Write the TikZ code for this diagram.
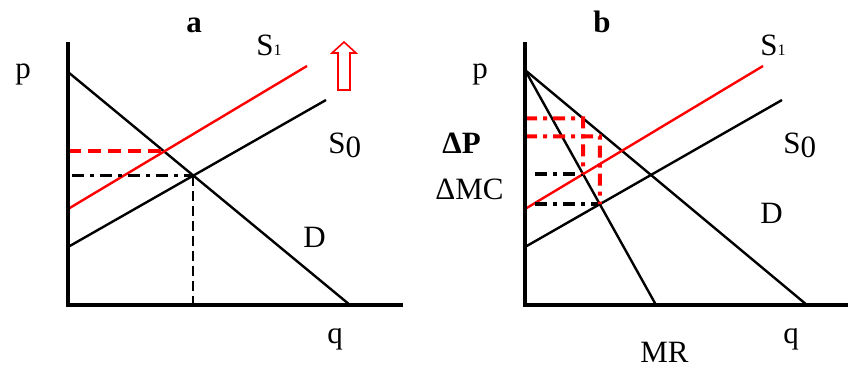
\documentclass[tikz,border=0pt]{standalone}
\usepackage{fontspec}
\setmainfont{Liberation Serif}
\usetikzlibrary{calc}
\definecolor{shiftRed}{RGB}{255,0,0}
\tikzset{
  axis/.style={line width=2pt},
  curve/.style={line width=1.2pt},
  shifted/.style={line width=1.2pt, draw=shiftRed},
  lbl/.style={anchor=base west, inner sep=0pt, font=\fontsize{15.5}{18}\selectfont},
  guide/.style={line width=1.1pt, dash pattern=on 5pt off 2.5pt},
  guidedot/.style={line width=1.5pt, dash pattern=on 6pt off 3pt on 2pt off 3pt},
  redguide/.style={line width=2pt, draw=shiftRed, dash pattern=on 6.5pt off 3.5pt},
  reddot/.style={line width=2pt, draw=shiftRed, dash pattern=on 6pt off 3pt on 2pt off 3pt},
}
\newcommand{\Sone}{S{\fontsize{8}{10}\selectfont 1}}
\newcommand{\Szero}{S\raisebox{-2pt}{0}}

\begin{document}
\begin{tikzpicture}[x=0.5pt, y=-0.5pt]
  \useasboundingbox (0,0) rectangle (849,369);

  % panel a
  \coordinate (aO) at (68,305);
  \coordinate (aTop) at (68,42);
  \coordinate (aEnd) at (403,305);
  \coordinate (aD0) at (68,72);
  \coordinate (aD1) at (350,305);
  \coordinate (aSa0) at (68,247);
  \coordinate (aSa1) at (326,100);
  \coordinate (aSb0) at (68,209);
  \coordinate (aSb1) at (307,66);
  \coordinate (aE0) at (intersection of aD0--aD1 and aSa0--aSa1);
  \coordinate (aE1) at (intersection of aD0--aD1 and aSb0--aSb1);

  \draw[curve] (aD0) -- (aD1);
  \draw[curve] (aSa0) -- (aSa1);
  \draw[shifted] (aSb0) -- (aSb1);
  \draw[guidedot] ($(aO |- aE0)+(4,0)$) -- (aE0);
  \draw[guide] (aE0) -- (aE0 |- aO);
  \draw[redguide] (aO |- aE1) -- (aE1);
  \draw[axis] (aTop) -- (aO) -- (aEnd);
  \draw[shiftRed, line width=0.8pt, fill=white]
    (338,90) -- (338,53) -- (332,53) -- (344,42) -- (356,53) -- (350,53) -- (350,90) -- cycle;

  \node[lbl, font=\fontsize{15.5}{18}\selectfont\bfseries] (aTitle) at (186,33) {a};
  \node[lbl] (aP) at (15,79) {p};
  \node[lbl] (aQ) at (327,343) {q};
  \node[lbl] (aS1) at (256,55) {\Sone};
  \node[lbl] (aS0) at (328,153) {\Szero};
  \node[lbl] (aDl) at (303,247) {D};

  % panel b
  \coordinate (bO) at (525,305);
  \coordinate (bTop) at (525,42);
  \coordinate (bEnd) at (848,305);
  \coordinate (bD0) at (525,70);
  \coordinate (bD1) at (807,305);
  \coordinate (bMR) at (656,305);
  \coordinate (bSa0) at (525,247);
  \coordinate (bSa1) at (782,100);
  \coordinate (bSb0) at (525,209);
  \coordinate (bSb1) at (763,66);
  \coordinate (bM1) at (intersection of bD0--bMR and bSb0--bSb1);
  \coordinate (bM0) at (intersection of bD0--bMR and bSa0--bSa1);
  \coordinate (bM1up) at ($(bM1)+(0,-200)$);
  \coordinate (bM0up) at ($(bM0)+(0,-200)$);
  \coordinate (bP1) at (intersection of bD0--bD1 and bM1--bM1up);
  \coordinate (bP0) at (intersection of bD0--bD1 and bM0--bM0up);

  \draw[curve] (bD0) -- (bD1);
  \draw[curve] (bD0) -- (bMR);
  \draw[curve] (bSa0) -- (bSa1);
  \draw[shifted] (bSb0) -- (bSb1);
  \draw[guidedot, line width=1.8pt] ($(bO |- bM1)+(10,0)$) -- (bM1);
  \draw[guidedot, line width=1.8pt] ($(bO |- bM0)+(10,0)$) -- (bM0);
  \draw[reddot] (bO |- bP1) -- (bP1) -- (bM1);
  \draw[reddot] ($(bO |- bP0)+(0,4)$) -- ($(bP0)+(0,4)$) -- (bM0);
  \draw[axis] (bTop) -- (bO) -- (bEnd);

  \node[lbl, font=\fontsize{15.5}{18}\selectfont\bfseries] (bTitle) at (593,33) {b};
  \node[lbl] (bP) at (472,79) {p};
  \node[lbl] (bQ) at (783,343) {q};
  \node[lbl] (bS1) at (760,55) {\Sone};
  \node[lbl] (bS0) at (783,153) {\Szero};
  \node[lbl] (bDl) at (760,223) {D};
  \node[lbl] (bMRl) at (640,362) {MR};
  \node[lbl, font=\fontsize{15.5}{18}\selectfont\bfseries] (bdP) at (442,153) {ΔP};
  \node[lbl] (bdMC) at (435,199) {ΔMC};
\end{tikzpicture}
\end{document}
